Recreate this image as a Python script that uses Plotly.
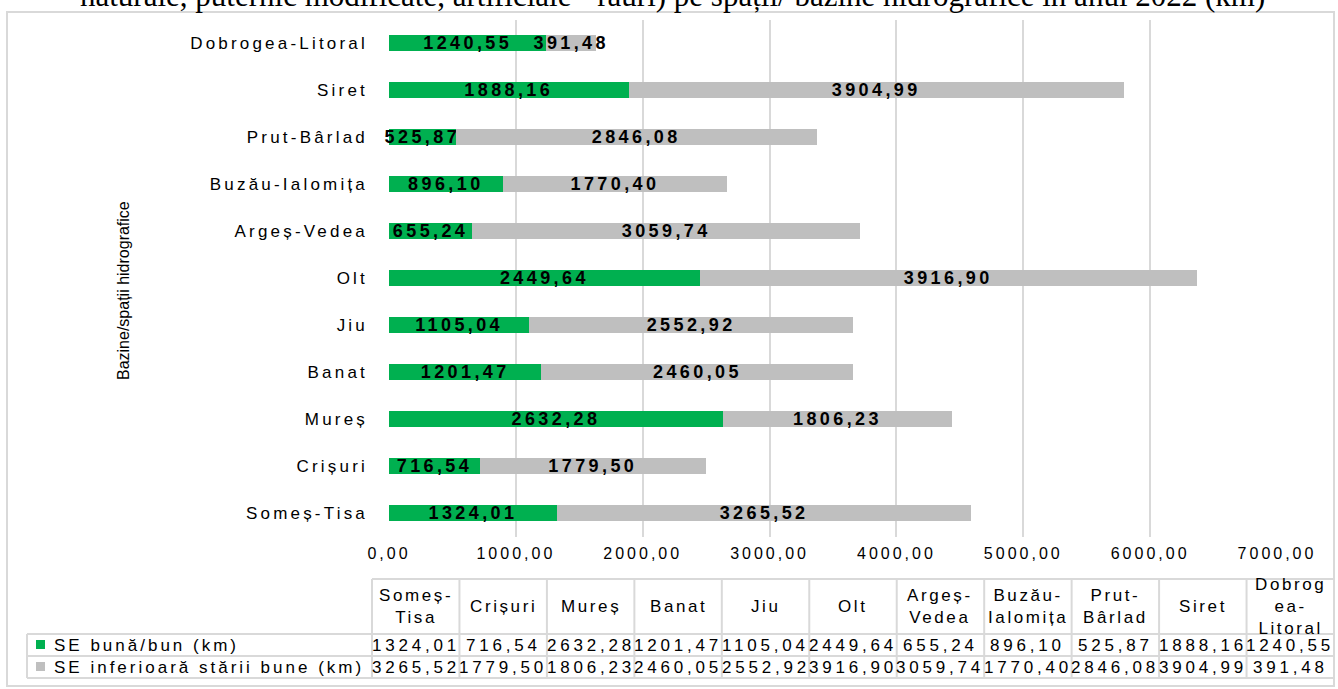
import plotly.graph_objects as go

# Bazine / spații hidrografice (bottom to top on the chart)
categories = ["Someș-Tisa", "Crișuri", "Mureș", "Banat", "Jiu", "Olt",
              "Argeș-Vedea", "Buzău-Ialomița", "Prut-Bârlad", "Siret",
              "Dobrogea-Litoral"]
# Header labels of the data table under the chart
table_headers = ["Someș-<br>Tisa", "Crișuri", "Mureș", "Banat", "Jiu", "Olt",
                 "Argeș-<br>Vedea", "Buzău-<br>Ialomița", "Prut-<br>Bârlad",
                 "Siret", "Dobrog<br>ea-<br>Litoral"]
good_km = [1324.01, 716.54, 2632.28, 1201.47, 1105.04, 2449.64,
           655.24, 896.10, 525.87, 1888.16, 1240.55]
below_good_km = [3265.52, 1779.50, 1806.23, 2460.05, 2552.92, 3916.90,
                 3059.74, 1770.40, 2846.08, 3904.99, 391.48]
series_names = ["SE bună/bun (km)", "SE inferioară stării bune (km)"]
x_ticks = [0, 1000, 2000, 3000, 4000, 5000, 6000, 7000]

W, H = 1338, 689
GREEN = "#00b050"
GREY = "#bfbfbf"
LINE = "#d9d9d9"
FONT = "Liberation Sans"


def px(x):
    return x / W


def py(y):
    return 1 - y / H


def spaced(text, sp=3):
    return f'<span style="letter-spacing:{sp}px">{text}</span>'


def fmt(v):
    return f"{v:.2f}".replace(".", ",")


fig = go.Figure()
for name, vals, color in [(series_names[0], good_km, GREEN),
                          (series_names[1], below_good_km, GREY)]:
    fig.add_trace(go.Bar(
        y=categories, x=vals, name=name, orientation="h",
        marker=dict(color=color, line=dict(width=0)),
        text=[spaced(f"<b>{fmt(v)}</b>", 3.4) for v in vals],
        textposition="inside", insidetextanchor="middle", textangle=0,
        textfont=dict(family=FONT, size=18, color="black"),
        cliponaxis=False, hoverinfo="skip",
    ))

fig.update_layout(
    template="none",
    width=W, height=H, margin=dict(l=0, r=0, t=0, b=0, autoexpand=False),
    paper_bgcolor="white", plot_bgcolor="white",
    barmode="stack", bargap=0.64, showlegend=False,
    uniformtext=dict(minsize=18, mode="show"),
    xaxis=dict(domain=[px(389), px(1277)], range=[0, 7000], automargin=False,
               tickvals=x_ticks, ticktext=[spaced(fmt(t), 3) for t in x_ticks],
               tickfont=dict(family=FONT, size=16, color="black"),
               showgrid=True, gridcolor=LINE, gridwidth=2,
               zeroline=False, showline=False, ticks="",
               ticklabelstandoff=5),
    yaxis=dict(domain=[py(536.5), py(19.5)], type="category", automargin=False,
               categoryorder="array", categoryarray=categories,
               range=[-0.5, 10.5],
               tickvals=categories,
               ticktext=[spaced(c, 3.2) for c in categories],
               tickfont=dict(family=FONT, size=17, color="black"),
               showgrid=False, zeroline=False, showline=False, ticks="",
               ticklabelstandoff=20),
)

shapes = []
# outer frame of the chart area
shapes.append(dict(type="rect", xref="paper", yref="paper",
                   x0=px(7), x1=px(1334), y0=py(686), y1=py(12),
                   line=dict(color=LINE, width=2)))

# data table grid
col_left, col_right = 372, 1334
ncol = len(categories)
cw = (col_right - col_left) / ncol
row_top, row_h1, row_r1, row_r2 = 579, 634, 656, 678
leg_left = 27
tbl_line = dict(color=LINE, width=2)
for yy, x0 in [(row_top, col_left), (row_h1, leg_left), (row_r1, leg_left), (row_r2, leg_left)]:
    shapes.append(dict(type="line", xref="paper", yref="paper",
                       x0=px(x0), x1=px(col_right), y0=py(yy), y1=py(yy), line=tbl_line))
for i in range(ncol + 1):
    xx = col_left + i * cw
    shapes.append(dict(type="line", xref="paper", yref="paper",
                       x0=px(xx), x1=px(xx), y0=py(row_top), y1=py(row_r2), line=tbl_line))
shapes.append(dict(type="line", xref="paper", yref="paper",
                   x0=px(leg_left), x1=px(leg_left), y0=py(row_h1), y1=py(row_r2), line=tbl_line))
# legend keys in the table
for (yc, color) in [((row_h1 + row_r1) / 2, GREEN), ((row_r1 + row_r2) / 2, GREY)]:
    shapes.append(dict(type="rect", xref="paper", yref="paper",
                       x0=px(36), x1=px(45), y0=py(yc + 4), y1=py(yc - 5),
                       fillcolor=color, line=dict(width=0)))

annotations = []
# table header and values
for i in range(ncol):
    xc = col_left + (i + 0.5) * cw
    annotations.append(dict(xref="paper", yref="paper", x=px(xc), y=py((row_top + row_h1) / 2),
                            text=spaced(table_headers[i], 2.6), showarrow=False,
                            xanchor="center", yanchor="middle",
                            font=dict(family=FONT, size=17, color="black")))
    for vals, (ra, rb) in [(good_km, (row_h1, row_r1)), (below_good_km, (row_r1, row_r2))]:
        annotations.append(dict(xref="paper", yref="paper", x=px(xc), y=py((ra + rb) / 2),
                                text=spaced(fmt(vals[i]), 3.8), showarrow=False,
                                xanchor="center", yanchor="middle",
                                font=dict(family=FONT, size=17, color="black")))
for name, (ra, rb) in zip(series_names, [(row_h1, row_r1), (row_r1, row_r2)]):
    annotations.append(dict(xref="paper", yref="paper", x=px(52), y=py((ra + rb) / 2),
                            text=spaced(name, 3.0), showarrow=False,
                            xanchor="left", yanchor="middle",
                            font=dict(family=FONT, size=17, color="black")))

# axis title
annotations.append(dict(xref="paper", yref="paper", x=px(124), y=py(291),
                        text="Bazine/spații hidrografice", textangle=-90, showarrow=False,
                        xanchor="center", yanchor="middle",
                        font=dict(family=FONT, size=16, color="black")))

# figure caption running in from the page above
annotations.append(dict(xref="paper", yref="paper", x=px(672), y=py(15),
                        text="naturale, puternic modificate, artificiale - râuri) pe spații/ bazine hidrografice în anul 2022 (km)",
                        showarrow=False, xanchor="center", yanchor="bottom",
                        font=dict(family="Liberation Serif", size=31, color="black")))

fig.update_layout(shapes=shapes, annotations=annotations)
fig.write_html("out.html")
